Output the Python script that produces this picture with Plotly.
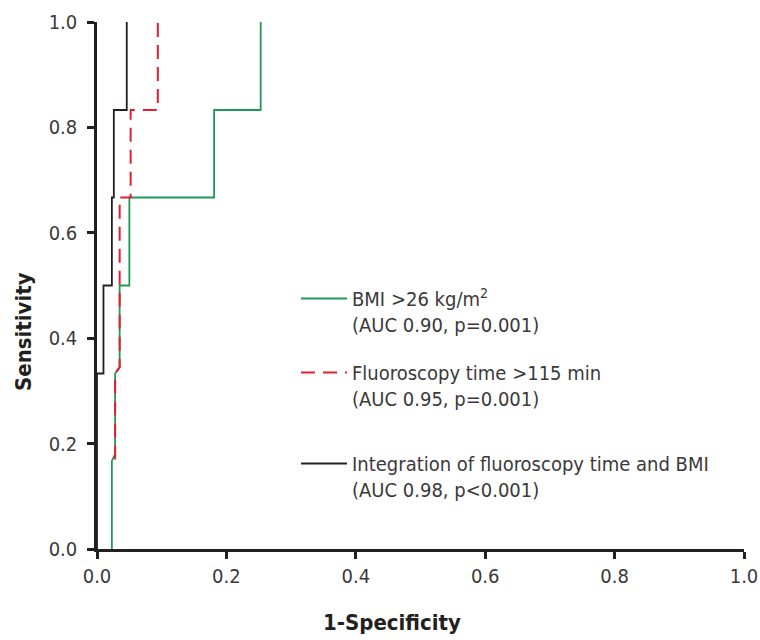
import plotly.graph_objects as go

# ROC step curves (1-Specificity, Sensitivity)
bmi_x = [0.023, 0.023, 0.028, 0.028, 0.035, 0.035, 0.050, 0.050, 0.181, 0.181, 0.253, 0.253]
bmi_y = [0.000, 0.167, 0.180, 0.333, 0.345, 0.500, 0.500, 0.667, 0.667, 0.833, 0.833, 1.000]

fluoro_x = [0.028, 0.028, 0.035, 0.035, 0.052, 0.052, 0.094, 0.094]
fluoro_y = [0.170, 0.333, 0.345, 0.667, 0.667, 0.833, 0.833, 1.000]

integ_x = [0.000, 0.000, 0.010, 0.010, 0.023, 0.023, 0.026, 0.026, 0.046, 0.046]
integ_y = [0.000, 0.333, 0.333, 0.500, 0.500, 0.667, 0.667, 0.833, 0.833, 1.000]

names = [
    "BMI >26 kg/m<sup>2</sup><br>(AUC 0.90, p=0.001)",
    "Fluoroscopy time >115 min<br>(AUC 0.95, p=0.001)",
    "Integration of fluoroscopy time and BMI<br>(AUC 0.98, p<0.001)",
]
tick_vals = [0.0, 0.2, 0.4, 0.6, 0.8, 1.0]
tick_text = ["0.0", "0.2", "0.4", "0.6", "0.8", "1.0"]

FONT = "DejaVu Sans Condensed, Liberation Sans Narrow, sans-serif"

fig = go.Figure()
fig.add_trace(go.Scatter(x=bmi_x, y=bmi_y, mode="lines", name=names[0], legendgroup="a",
                         line=dict(color="#1f9a55", width=1.8)))
fig.add_trace(go.Scatter(x=fluoro_x, y=fluoro_y, mode="lines", name=names[1], legendgroup="b",
                         line=dict(color="#e0202e", width=2, dash="14px,8px")))
fig.add_trace(go.Scatter(x=integ_x, y=integ_y, mode="lines", name=names[2], legendgroup="c",
                         legend="legend2",
                         line=dict(color="#231f20", width=1.8)))

axis_common = dict(
    range=[0, 1.0], tickvals=tick_vals, ticktext=tick_text,
    showline=True, linecolor="#231f20", linewidth=2.5,
    ticks="outside", ticklen=7, tickwidth=2.5, tickcolor="#231f20",
    showgrid=False, zeroline=False, automargin=False,
    tickfont=dict(family=FONT, size=20, color="#3a3a3a"),
)

pw = 760 - 97 - 16
ph = 640 - 22 - 91

legend_common = dict(xanchor="left", yanchor="top", bgcolor="rgba(0,0,0,0)",
                     valign="top", itemwidth=46,
                     font=dict(family=FONT, size=20, color="#3a3a3a"))

fig.update_layout(
    width=760, height=640,
    margin=dict(l=97, r=16, t=22, b=91, autoexpand=False),
    paper_bgcolor="white", plot_bgcolor="white",
    xaxis=dict(**axis_common),
    yaxis=dict(**axis_common, ticklabelstandoff=6),
    showlegend=True,
    legend=dict(x=(296 - 97) / pw, y=(549 - 279) / ph, tracegroupgap=19, **legend_common),
    legend2=dict(x=(296 - 97) / pw, y=(549 - 444) / ph, **legend_common),
    annotations=[
        dict(text="<b>1-Specificity</b>", xref="paper", yref="paper",
             x=(392 - 97) / pw, y=(549 - 622) / ph, xanchor="center", yanchor="middle",
             showarrow=False, font=dict(family=FONT, size=22, color="#231f20")),
        dict(text="<b>Sensitivity</b>", textangle=-90, xref="paper", yref="paper",
             x=(23 - 97) / pw, y=(549 - 332) / ph, xanchor="center", yanchor="middle",
             showarrow=False, font=dict(family=FONT, size=22, color="#231f20")),
    ],
)

fig.write_html("out.html", post_script="document.body.style.margin='0';",
               config={"displayModeBar": False})
